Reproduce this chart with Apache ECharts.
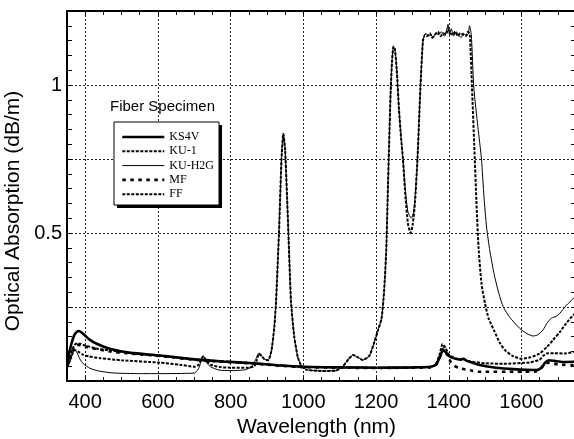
<!DOCTYPE html>
<html>
<head>
<meta charset="utf-8">
<script src="https://cdn.jsdelivr.net/npm/echarts@6/dist/echarts.min.js"></script>
<style>
html,body{margin:0;padding:0;background:#fff;}
#chart{width:574px;height:439px;}
</style>
</head>
<body>
<div id="chart"></div>
<script>
// ---- data (wavelength nm / absorption dB/m) ----
var seriesNames = ['KS4V', 'KU-1', 'KU-H2G', 'MF', 'FF'];

var wlKS4V = [350,355,362,370,377,383,390,400,412,433,470,525,600,650,700,780,862,930,1000,1100,1200,1300,1350,1365,1375,1385,1393,1400,1410,1420,1432,1440,1450,1465,1485,1530,1577,1641,1655,1665,1675,1690,1714,1750];
var absKS4V = [0.07,0.09,0.125,0.155,0.166,0.169,0.164,0.153,0.14,0.125,0.108,0.095,0.087,0.08,0.073,0.066,0.06,0.053,0.048,0.046,0.045,0.046,0.048,0.055,0.08,0.105,0.095,0.085,0.078,0.075,0.072,0.075,0.068,0.062,0.054,0.045,0.04,0.037,0.045,0.062,0.07,0.068,0.064,0.065];

var wlKU1 = [350,358,366,372,380,392,410,441,500,605,660,700,712,720,725,732,745,770,800,850,865,872,878,885,893,903,912,920,925,933,940,945,950,959,966,975,985,995,1010,1050,1090,1109,1125,1137,1150,1164,1175,1183,1195,1205,1215,1222,1228,1232,1236,1240,1244,1248,1252,1257,1263,1269,1274,1281,1288,1295,1301,1307,1314,1322,1329,1335,1340,1348,1355,1362,1370,1378,1385,1392,1398,1404,1410,1418,1425,1432,1440,1447,1453,1458,1464,1470,1476,1482,1490,1500,1510,1526,1540,1554,1575,1600,1625,1650,1670,1687,1705,1723,1742,1750];
var absKU1 = [0.045,0.07,0.095,0.105,0.1,0.09,0.083,0.077,0.07,0.062,0.055,0.048,0.055,0.075,0.084,0.07,0.055,0.047,0.045,0.045,0.05,0.07,0.092,0.085,0.074,0.07,0.1,0.18,0.27,0.5,0.75,0.835,0.78,0.5,0.27,0.15,0.08,0.05,0.038,0.034,0.035,0.05,0.075,0.088,0.08,0.071,0.078,0.088,0.13,0.17,0.21,0.3,0.44,0.62,0.8,0.97,1.08,1.13,1.12,1.05,0.92,0.82,0.75,0.62,0.53,0.5,0.53,0.6,0.75,0.99,1.15,1.17,1.165,1.175,1.16,1.17,1.18,1.165,1.175,1.17,1.19,1.175,1.17,1.18,1.165,1.175,1.17,1.165,1.18,1.17,0.99,0.8,0.61,0.45,0.33,0.26,0.21,0.167,0.13,0.105,0.085,0.075,0.08,0.093,0.115,0.139,0.165,0.195,0.222,0.23];

var wlKUH2G = [350,358,366,372,378,385,395,413,440,479,550,600,700,710,716,720,725,732,745,768,800,840,857,868,878,885,893,903,912,920,925,933,940,945,950,959,966,975,985,995,1010,1050,1090,1109,1125,1137,1150,1164,1175,1183,1195,1205,1215,1222,1228,1232,1236,1240,1244,1248,1252,1257,1263,1269,1274,1281,1288,1297,1303,1308,1314,1322,1329,1331,1337,1343,1350,1357,1364,1372,1380,1388,1394,1398,1402,1407,1413,1420,1427,1434,1441,1448,1454,1457,1462,1469,1480,1490,1497,1504,1513,1525,1538,1550,1568,1595,1615,1632,1645,1659,1670,1682,1695,1705,1723,1742,1750];
var absKUH2G = [0.04,0.065,0.095,0.105,0.095,0.075,0.058,0.043,0.033,0.027,0.025,0.025,0.027,0.038,0.055,0.075,0.084,0.065,0.048,0.037,0.035,0.038,0.048,0.07,0.095,0.085,0.074,0.07,0.1,0.18,0.27,0.5,0.75,0.835,0.78,0.5,0.27,0.15,0.08,0.05,0.038,0.034,0.035,0.05,0.075,0.088,0.08,0.071,0.078,0.088,0.13,0.17,0.21,0.3,0.44,0.62,0.8,0.97,1.08,1.13,1.12,1.05,0.92,0.82,0.75,0.64,0.57,0.55,0.57,0.63,0.75,0.99,1.15,1.16,1.175,1.165,1.17,1.16,1.175,1.17,1.18,1.165,1.185,1.205,1.17,1.19,1.165,1.18,1.17,1.16,1.175,1.165,1.175,1.2,1.17,0.99,0.86,0.75,0.62,0.52,0.44,0.36,0.295,0.25,0.215,0.178,0.16,0.152,0.156,0.172,0.195,0.212,0.218,0.228,0.255,0.278,0.288];

var wlMF = [350,356,364,372,378,390,405,430,468,514,560,600,700,780,862,930,1000,1100,1200,1300,1350,1365,1375,1385,1395,1405,1415,1430,1460,1480,1590,1640,1655,1668,1700,1750];
var absMF = [0.05,0.075,0.1,0.118,0.122,0.12,0.115,0.108,0.1,0.094,0.089,0.085,0.072,0.065,0.059,0.052,0.047,0.045,0.044,0.045,0.046,0.055,0.08,0.11,0.09,0.065,0.052,0.043,0.036,0.031,0.031,0.032,0.045,0.062,0.056,0.053];

var wlFF = [350,356,364,371,378,388,400,430,468,514,560,600,700,780,862,930,1000,1100,1200,1300,1350,1365,1375,1383,1392,1400,1420,1440,1460,1500,1550,1623,1650,1660,1668,1690,1720,1750];
var absFF = [0.05,0.075,0.105,0.122,0.127,0.125,0.12,0.11,0.103,0.096,0.09,0.086,0.073,0.066,0.06,0.053,0.048,0.046,0.045,0.046,0.047,0.058,0.09,0.125,0.11,0.09,0.075,0.073,0.066,0.06,0.058,0.063,0.072,0.085,0.093,0.094,0.093,0.1];

var xTickLabels = [400, 600, 800, 1000, 1200, 1400, 1600];
var yTickLabels = [0.5, 1];

function pairs(w, a) { return w.map(function (x, i) { return [x, a[i]]; }); }

var styles = {
  'KS4V':   { width: 2.6, type: 'solid' },
  'KU-1':   { width: 2, type: [3, 1.5] },
  'KU-H2G': { width: 1, type: 'solid' },
  'MF':     { width: 2.6, type: [3.5, 4.5] },
  'FF':     { width: 2, type: [3, 1.5] }
};
var dataMap = {
  'KS4V': pairs(wlKS4V, absKS4V),
  'KU-1': pairs(wlKU1, absKU1),
  'KU-H2G': pairs(wlKUH2G, absKUH2G),
  'MF': pairs(wlMF, absMF),
  'FF': pairs(wlFF, absFF)
};

var FONT = '"Liberation Sans", Arial, sans-serif';
var chart = echarts.init(document.getElementById('chart'), null, { renderer: 'canvas' });

var series = seriesNames.map(function (n) {
  return {
    name: n, type: 'line', data: dataMap[n], showSymbol: false, symbol: 'none',
    smooth: 0.2, xAxisIndex: 0, yAxisIndex: 0, z: 2,
    lineStyle: { color: '#000', width: styles[n].width, type: styles[n].type, cap: 'butt' },
    itemStyle: { color: '#000' }
  };
});

var legendData = seriesNames.map(function (n) {
  return {
    name: n,
    itemStyle: { opacity: 0, borderWidth: 0 },
    lineStyle: { color: '#000', width: styles[n].width, type: styles[n].type, cap: 'butt' }
  };
});

var option = {
  animation: false,
  backgroundColor: '#fff',
  grid: { left: 67, right: -2, top: 11, bottom: 58, containLabel: false, outerBoundsMode: 'none' },
  xAxis: [
    {
      type: 'value', min: 350, max: 1750, interval: 50, position: 'bottom',
      name: 'Wavelength (nm)', nameLocation: 'middle', nameGap: 32,
      nameTextStyle: { fontFamily: FONT, fontSize: 21, color: '#000', padding: [0, 10, 0, 0] },
      axisLine: { show: true, onZero: false, lineStyle: { color: '#000', width: 2 } },
      axisTick: { show: true, inside: true, length: 4, lineStyle: { color: '#000', width: 1 } },
      axisLabel: {
        margin: 11, fontFamily: FONT, fontSize: 20, color: '#000',
        formatter: function (v) { return xTickLabels.indexOf(v) >= 0 ? String(v) : ''; }
      },
      splitLine: { show: false }
    },
    {
      type: 'value', min: 350, max: 1750, splitNumber: 7, position: 'bottom',
      axisLine: { show: false }, axisTick: { show: false }, axisLabel: { show: false },
      splitLine: { show: true, lineStyle: { color: '#222', width: 1, type: [2, 2] } }
    },
    {
      type: 'value', min: 350, max: 1750, interval: 50, position: 'top',
      axisLine: { show: true, onZero: false, lineStyle: { color: '#000', width: 2 } },
      axisTick: { show: true, inside: true, length: 4, lineStyle: { color: '#000', width: 1 } },
      axisLabel: { show: false }, splitLine: { show: false }
    }
  ],
  yAxis: [
    {
      type: 'value', min: 0, max: 1.25, interval: 0.25, position: 'left',
      name: 'Optical Absorption (dB/m)', nameLocation: 'middle', nameGap: 39,
      nameTextStyle: { fontFamily: FONT, fontSize: 21, color: '#000', padding: [0, 30, 0, 0] },
      axisLine: { show: true, onZero: false, lineStyle: { color: '#000', width: 2 } },
      axisTick: { show: true, inside: true, length: 5, lineStyle: { color: '#000', width: 1 } },
      minorTick: { show: true, splitNumber: 5, length: 5, lineStyle: { color: '#000', width: 1 } },
      minorSplitLine: { show: false },
      axisLabel: {
        margin: 5, fontFamily: FONT, fontSize: 20, color: '#000',
        formatter: function (v) {
          for (var i = 0; i < yTickLabels.length; i++) {
            if (Math.abs(v - yTickLabels[i]) < 1e-6) return String(yTickLabels[i]);
          }
          return '';
        }
      },
      splitLine: { show: true, lineStyle: { color: '#222', width: 1, type: [2, 2] } }
    },
    {
      type: 'value', min: 0, max: 1.25, interval: 0.25, position: 'right',
      axisLine: { show: true, onZero: false, lineStyle: { color: '#000', width: 2 } },
      axisTick: { show: true, inside: true, length: 5, lineStyle: { color: '#000', width: 1 } },
      minorTick: { show: true, splitNumber: 5, length: 5, lineStyle: { color: '#000', width: 1 } },
      axisLabel: { show: false }, splitLine: { show: false }
    }
  ],
  legend: {
    data: legendData, orient: 'vertical', left: 116, top: 131,
    itemWidth: 42, itemHeight: 12, itemGap: 2.3, padding: [0, 5],
    itemStyle: { opacity: 0, borderWidth: 0 },
    textStyle: { fontFamily: '"Liberation Serif", "Times New Roman", serif', fontSize: 12, color: '#000' },
    selectedMode: false
  },
  graphic: [
    { type: 'rect', z: 3, shape: { x: 117, y: 125, width: 105, height: 83 }, style: { fill: '#000' } },
    { type: 'rect', z: 3, shape: { x: 114, y: 122, width: 105, height: 83 }, style: { fill: '#fff', stroke: '#000', lineWidth: 1 } },
    { type: 'text', z: 3, x: 110, y: 107, style: { text: 'Fiber Specimen', font: '15px ' + FONT, fill: '#000', verticalAlign: 'middle' } }
  ],
  series: series
};
chart.setOption(option);
</script>
</body>
</html>
